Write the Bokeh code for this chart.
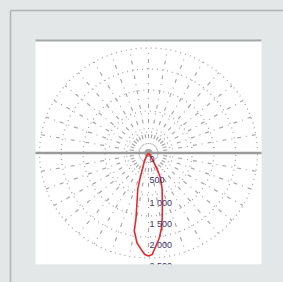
import numpy as np
from bokeh.plotting import figure
from bokeh.models import Range1d, GlobalInlineStyleSheet
from bokeh.core.properties import value
from bokeh.embed import file_html
from bokeh.resources import INLINE

# ---- data (luminous intensity, cd) ----
ring_values = [500, 1000, 1500, 2000, 2500]
ring_labels = ["0", "500", "1 000", "1 500", "2 000", "2 500"]
label_values = [0, 500, 1000, 1500, 2000, 2500]
radial_angles = list(range(0, 360, 10))

# angle from nadir (deg), negative = left side
gamma_left = [-38, -32, -26, -18, -16, -12.5, -10.5, -10, -7, -3.5, -2, 0]
intensity_left = [0, 80, 210, 610, 890, 1220, 1570, 1880, 2160, 2340, 2420, 2450]
gamma_right = [0, 2, 3.5, 7, 9.5, 11.5, 15, 20.5, 25, 27, 29.5, 34, 40]
intensity_right = [2450, 2420, 2290, 2040, 1810, 1580, 1230, 890, 645, 430, 220, 80, 0]

# ---- pixel mapping (page pixels) ----
W, H = 283, 282
CX, CY = 148.0, 152.5
KX, KY = 2500 / 109.0, 2500 / 105.0
def X(px):
    return (px - CX) * KX
def Y(py):
    return (CY - py) * KY

GREY = "#e4e7e7"
p = figure(width=W, height=H, x_range=Range1d(X(0), X(W)), y_range=Range1d(Y(H), Y(0)),
           x_axis_location=None, y_axis_location=None, toolbar_location=None,
           output_backend="svg", min_border=0, outline_line_color=None,
           background_fill_color=GREY, border_fill_color=GREY)
p.grid.visible = False
p.stylesheets = [GlobalInlineStyleSheet(css="body { background: %s; }" % GREY)]

# white panel
p.quad(left=[X(35)], right=[X(261)], top=[Y(40)], bottom=[Y(264)], fill_color="white", line_color=None)

# rings
t = np.linspace(0, 2 * np.pi, 361)
p.multi_line(xs=[list(r * np.cos(t)) for r in ring_values], ys=[list(r * np.sin(t)) for r in ring_values],
             line_color="#a4a4a4", line_width=1.3, line_dash="1 4")
# radials
rmax = max(ring_values)
p.multi_line(xs=[[0, rmax * np.cos(np.radians(a))] for a in radial_angles],
             ys=[[0, rmax * np.sin(np.radians(a))] for a in radial_angles],
             line_color="#a8a8a8", line_width=1.2, line_dash="4 5 1 5")

# horizontal axis line
p.segment(x0=[X(35)], x1=[X(261)], y0=[0], y1=[0], line_color="#9a9a9a", line_width=2.5)

# intensity curve
g = np.radians(np.array(gamma_left + gamma_right[1:], dtype=float))
I = np.array(intensity_left + intensity_right[1:], dtype=float)
p.line(x=I * np.sin(g), y=-I * np.cos(g), line_color="#e8282b", line_width=1.6, line_join="round")

# labels
p.text(x=[0] * len(label_values), y=[-v for v in label_values], text=ring_labels,
       text_font=value("Liberation Sans"), text_font_size="9px", text_color="#3d3566",
       text_baseline="top", text_align="left", x_offset=1, y_offset=3)

# grey below panel (clips labels)
p.quad(left=[X(10)], right=[X(W)], top=[Y(264)], bottom=[Y(H)], fill_color=GREY, line_color=None)

# panel top line and outer frame lines
p.segment(x0=[X(35)], x1=[X(261)], y0=[Y(40)], y1=[Y(40)], line_color="#a6a9a9", line_width=2)
p.segment(x0=[X(10)], x1=[X(W)], y0=[Y(10)], y1=[Y(10)], line_color="#b0b3b3", line_width=1.5)
p.segment(x0=[X(10)], x1=[X(10)], y0=[Y(10)], y1=[Y(H)], line_color="#b0b3b3", line_width=1.5)

open("out.html", "w").write(file_html(p, INLINE))
